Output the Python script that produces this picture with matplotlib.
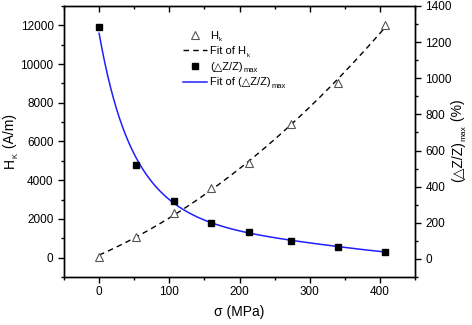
import numpy as np
import matplotlib
matplotlib.use("Agg")
import matplotlib.pyplot as plt
from matplotlib.ticker import MultipleLocator
from matplotlib.transforms import IdentityTransform

FAM = ['Liberation Sans', 'DejaVu Sans']
plt.rcParams['font.family'] = FAM

stress = [0, 53, 107, 160, 213, 273, 340, 407]
hk = [50, 1090, 2300, 3620, 4870, 6890, 9020, 12010]
gmi_max = [1285, 522, 318, 198, 150, 102, 67, 39]

x_ticks = [0, 100, 200, 300, 400]
left_ticks = [0, 2000, 4000, 6000, 8000, 10000, 12000]
right_ticks = [0, 200, 400, 600, 800, 1000, 1200, 1400]

legend_main = ['H', 'Fit of H', '(△Z/Z)', 'Fit of (△Z/Z)']
legend_sub = ['k', 'k', 'max', 'max']

# Fits computed from the data
xs = np.linspace(stress[0], stress[-1], 300)
p_hk = np.polyfit(stress, hk, 2)
hk_fit = np.polyval(p_hk, xs)
p_g = np.polyfit(stress, np.log(gmi_max), 3)
g_fit = np.exp(np.polyval(p_g, xs))

W, H = 472, 325
fig = plt.figure(figsize=(W / 100, H / 100), dpi=100)
ax = fig.add_axes([64 / W, 1 - 277 / H, (415 - 64) / W, (277 - 6) / H])
ax2 = ax.twinx()

h1, = ax.plot(stress, hk, linestyle='none', marker='^', markersize=6,
              markerfacecolor='white', markeredgecolor='#555555', markeredgewidth=0.8, zorder=3)
h2, = ax.plot(xs, hk_fit, linestyle=(0, (4, 3)), color='black', linewidth=1.0, zorder=2)
h3, = ax2.plot(stress, gmi_max, linestyle='none', marker='s', markersize=4.5,
               color='black', zorder=3)
h4, = ax2.plot(xs, g_fit, color='#1f1fff', linewidth=1.1, zorder=2)

ax.set_xlim(-50, 450)
ax.set_ylim(-1000, 13000)
ax2.set_ylim(-100, 1400)
ax.set_xticks(x_ticks)
ax.set_yticks(left_ticks)
ax2.set_yticks(right_ticks)
ax.xaxis.set_minor_locator(MultipleLocator(50))
ax.yaxis.set_minor_locator(MultipleLocator(1000))
ax2.yaxis.set_minor_locator(MultipleLocator(100))

ax.tick_params(axis='x', which='both', direction='out', top=True, labelsize=8.5, pad=2.5)
ax.tick_params(axis='x', which='major', length=4, width=1)
ax.tick_params(axis='x', which='minor', length=2.5, width=1)
ax.tick_params(axis='y', which='major', direction='out', length=4, width=1, labelsize=8.5)
ax.tick_params(axis='y', which='minor', direction='out', length=2.5, width=1)
ax2.tick_params(axis='y', which='major', direction='out', length=4, width=1, labelsize=8.5)
ax2.tick_params(axis='y', which='minor', direction='out', length=2.5, width=1)

for t in ax.xaxis.get_major_ticks() + ax.xaxis.get_minor_ticks():
    t.tick2line.set_marker(matplotlib.lines.TICKDOWN)

for a in (ax, ax2):
    for s in a.spines.values():
        s.set_linewidth(1.0)

ax.set_xlabel('σ (MPa)', fontsize=10, labelpad=5)

leg = ax.legend([h1, h2, h3, h4], legend_main,
                loc='upper left', bbox_to_anchor=(0.325, 0.925), frameon=False,
                fontsize=8, handlelength=2.2, handletextpad=0.3, labelspacing=0.5,
                borderaxespad=0)

fig.canvas.draw()
renderer = fig.canvas.get_renderer()

# subscripts for legend entries
for txt, sub in zip(leg.get_texts(), legend_sub):
    bb = txt.get_window_extent(renderer)
    fs = 4.5 if sub == 'k' else 5.5
    fig.text(bb.x1 + 0.3, bb.y0 - 0.3, sub, fontsize=fs, ha='left', va='baseline',
             transform=IdentityTransform(), family=FAM)


def rotated_label(parts, x_base, y_center):
    """parts: list of (text, fontsize, shift_right_px); rotated 90 deg, baseline at x_base."""
    objs = []
    lengths = []
    for s, fs, dx in parts:
        t = fig.text(0, 0, s, fontsize=fs, rotation=90, rotation_mode='anchor',
                     ha='left', va='baseline', transform=IdentityTransform(), family=FAM)
        objs.append((t, dx))
    fig.canvas.draw()
    for t, dx in objs:
        lengths.append(t.get_window_extent(renderer).height)
    total = sum(lengths)
    y = y_center - total / 2
    for (t, dx), L in zip(objs, lengths):
        t.set_position((x_base + dx, y))
        y += L


yc = H - 141
rotated_label([('H', 10, 0), ('K', 5.5, 3.0), (' (A/m)', 10, 0)], 14, yc)
rotated_label([('(△Z/Z)', 10, 0), ('max', 6, 3.0), (' (%)', 10, 0)], 462, yc)

fig.savefig('out.png', dpi=100)
